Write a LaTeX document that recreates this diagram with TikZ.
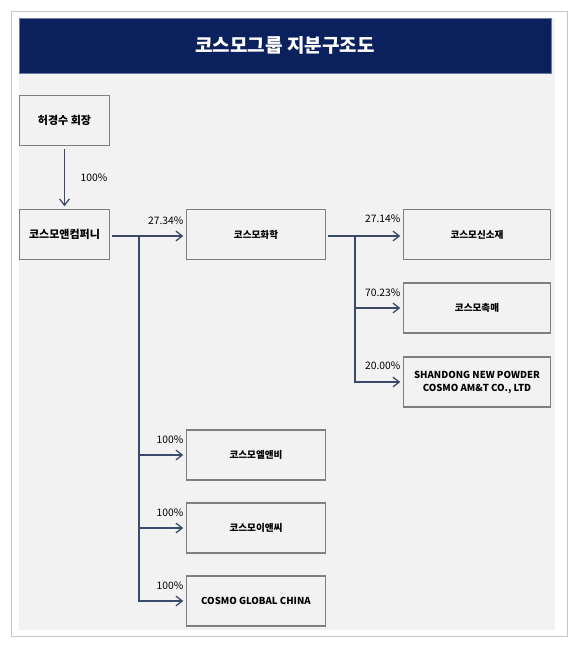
\documentclass[tikz,border=0pt]{standalone}
\usepackage{fontspec}
\setmainfont{Noto Sans CJK KR}
\usepackage{tikz}
\usetikzlibrary{arrows.meta,positioning}
\definecolor{navy}{HTML}{0B215E}
\definecolor{panel}{HTML}{F2F2F2}
\definecolor{edge}{HTML}{7F7F7F}
\definecolor{link}{HTML}{3B4A6B}
\tikzset{
  corp/.style={draw=edge, line width=1.4pt, fill=panel, rectangle, align=center,
               inner sep=1pt, font=\fontsize{9.6}{13}\selectfont\bfseries},
  topcorp/.style={corp, font=\fontsize{11}{13}\selectfont\bfseries},
  own/.style={draw=link, line width=1.3pt, -{Straight Barb[length=2.2mm,width=3.4mm]},
              shorten >=2.5pt},
  pct/.style={font=\fontsize{10.3}{12}\selectfont, inner sep=0.5pt, anchor=south east},
}

\begin{document}
\begin{tikzpicture}[x=1pt,y=-1pt]
  \useasboundingbox (0,0) rectangle (578,645);
  \draw[draw=black!22, line width=1pt, fill=white] (11,11) rectangle (567,636);
  \fill[panel] (19,18) rectangle (555,630);
  \node[fill=navy, draw=navy!60, minimum width=532pt, minimum height=55pt, inner sep=0pt,
        text=white, font=\fontsize{19}{22}\selectfont\bfseries] (title) at (285,45.5)
    {코스모그룹 지분구조도};
  % owners and companies
  \node[topcorp, minimum width=90pt, minimum height=50pt] (heo) at (64.5,120.5) {허경수 회장};
  \node[topcorp, minimum width=90pt, minimum height=50pt] (cnc) at (64.5,234.5) {코스모앤컴퍼니};
  \node[corp, minimum width=139pt, minimum height=50pt] (chem) at (256,234.5) {코스모화학};
  \node[corp, minimum width=147pt, minimum height=50pt] (amt) at (477,234.5) {코스모신소재};
  \node[corp, minimum width=147pt, minimum height=50pt] (cat) at (477,308) {코스모촉매};
  \node[corp, minimum width=147pt, minimum height=50pt] (sdg) at (477,382)
    {SHANDONG NEW POWDER\\COSMO AM\&T CO., LTD};
  \node[corp, minimum width=139pt, minimum height=50pt] (lnb) at (256,455) {코스모엘앤비};
  \node[corp, minimum width=139pt, minimum height=50pt] (enc) at (256,528) {코스모이앤씨};
  \node[corp, minimum width=139pt, minimum height=50pt] (gcn) at (256,601) {COSMO GLOBAL CHINA};
  % branch points
  \coordinate (br1) at (139,236);
  \coordinate (br2) at (355,236);
  % connectors
  \draw[own, shorten <=3pt] (heo) -- (cnc);
  \draw[own, shorten <=2pt] (cnc.east |- br1) -- (chem.west |- br1);
  \draw[own] (br1) |- (lnb.west);
  \draw[own] (br1) |- (enc.west);
  \draw[own] (br1) |- (gcn.west);
  \draw[own, shorten <=2pt] (chem.east |- br2) -- (amt.west |- br2);
  \draw[own] (br2) |- (cat.west);
  \draw[own] (br2) |- (sdg.west);
  % stakes
  \node[pct, anchor=west] (p0) at (80,178) {100\%};
  \node[pct] (p1) at (184,225) {27.34\%};
  \node[pct] (p2) at (184,444) {100\%};
  \node[pct] (p3) at (184,517) {100\%};
  \node[pct] (p4) at (184,590) {100\%};
  \node[pct] (p5) at (401,223) {27.14\%};
  \node[pct] (p6) at (401,297) {70.23\%};
  \node[pct] (p7) at (401,370) {20.00\%};
\end{tikzpicture}
\end{document}
